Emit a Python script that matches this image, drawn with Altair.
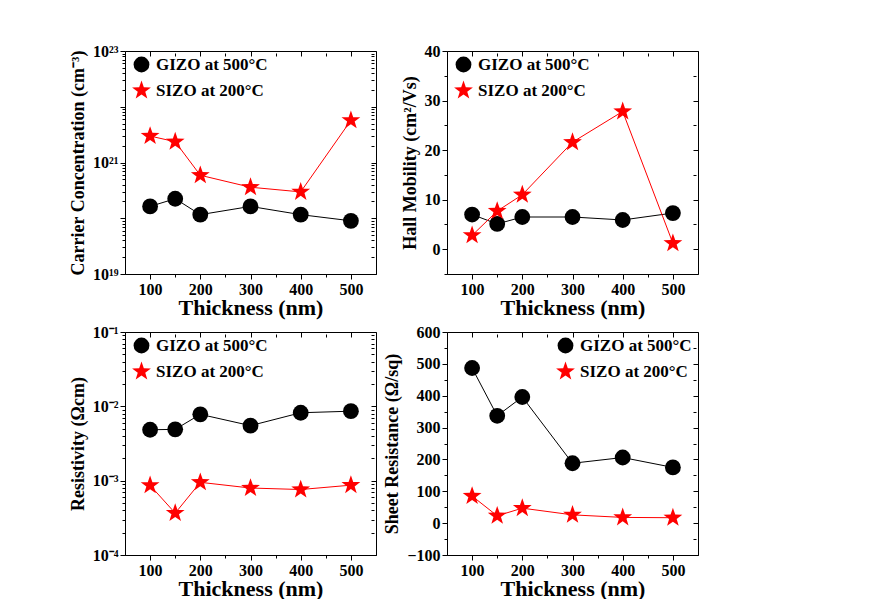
import altair as alt
import pandas as pd

thickness = [100, 150, 200, 300, 400, 500]
series = ["GIZO at 500°C", "SIZO at 200°C"]
colors = ["black", "#ff0000"]

carrier_gizo = [1.63e20, 2.24e20, 1.16e20, 1.63e20, 1.16e20, 9.0e19]
carrier_sizo = [2.98e21, 2.36e21, 5.9e20, 3.6e20, 2.97e20, 5.7e21]
mobility_gizo = [7.0, 5.1, 6.5, 6.5, 5.9, 7.3]
mobility_sizo = [2.8, 7.7, 11.0, 21.6, 27.8, 1.2]
resist_gizo = [4.84e-3, 4.9e-3, 7.8e-3, 5.5e-3, 8.2e-3, 8.6e-3]
resist_sizo = [8.65e-4, 3.66e-4, 9.5e-4, 7.96e-4, 7.6e-4, 8.7e-4]
sheet_gizo = [487, 337, 396, 188, 206, 175]
sheet_sizo = [85, 23, 47, 26, 18, 17]

x_ticks = [100, 150, 200, 250, 300, 350, 400, 450, 500]
STAR = ("M0,-1.25L0.294,-0.405L1.189,-0.386L0.475,0.155L0.735,1.011L0,0.5"
        "L-0.735,1.011L-0.475,0.155L-1.189,-0.386L-0.294,-0.405Z")
FONT = "Liberation Serif"


def make_df(g, s):
    rows = []
    for name, vals in zip(series, [g, s]):
        for t, v in zip(thickness, vals):
            rows.append({"Thickness": t, "value": v, "series": name})
    return pd.DataFrame(rows)


def log_ticks(lo, hi):
    out = []
    for e in range(lo, hi):
        for m in range(1, 10):
            out.append(float(f"{m}e{e}"))
    out.append(float(f"1e{hi}"))
    return out


LOG_TEST = "abs(log(datum.value)/LN10 - round(log(datum.value)/LN10)) < 1e-6"


def panel(df, yscale, yvalues, ylabel_expr, ymajor_test, ytitle, legend):
    xscale = alt.Scale(domain=[50, 550], nice=False, zero=False)
    xsize = {"condition": {"test": "datum.value % 100 === 0", "value": 5}, "value": 3}
    ysize = {"condition": {"test": ymajor_test, "value": 5}, "value": 3}
    x_main = alt.X("Thickness:Q", scale=xscale,
                   axis=alt.Axis(values=x_ticks, title="Thickness (nm)",
                                 labelExpr="datum.value % 100 === 0 ? datum.label : ''",
                                 tickSize=xsize, grid=False, labelFlush=False,
                                 labelOverlap=False))
    y_main = alt.Y("value:Q", scale=yscale,
                   axis=alt.Axis(values=yvalues, title=ytitle, labelExpr=ylabel_expr,
                                 tickSize=ysize, grid=False, labelOverlap=False,
                                 labelFlush=False))
    x_top = alt.X("Thickness:Q", scale=xscale,
                  axis=alt.Axis(orient="top", values=x_ticks, labels=False, title=None,
                                tickSize=xsize, offset=-5, domain=False, grid=False))
    y_right = alt.Y("value:Q", scale=yscale,
                    axis=alt.Axis(orient="right", values=yvalues, labels=False, title=None,
                                  tickSize=ysize, offset=-5, domain=False, grid=False))
    cscale = alt.Scale(domain=series, range=colors)
    sscale = alt.Scale(domain=series, range=["circle", STAR])
    base = alt.Chart(df)
    lines = [
        base.transform_filter(alt.datum.series == name).mark_line(
            strokeWidth=1, color=col).encode(
            x=alt.X("Thickness:Q", scale=xscale, axis=None),
            y=alt.Y("value:Q", scale=yscale, axis=None),
        )
        for name, col in zip(series, colors)
    ]
    pts = base.mark_point(filled=True, size=250, opacity=1).encode(
        x=x_main, y=y_main,
        color=alt.Color("series:N", scale=cscale, legend=legend),
        shape=alt.Shape("series:N", scale=sscale, legend=legend),
    )
    mirror = base.mark_point(opacity=0).encode(x=x_top, y=y_right)
    return alt.layer(*lines, pts, mirror).resolve_axis(x="independent", y="independent").properties(
        width=251, height=223)


p1 = panel(make_df(carrier_gizo, carrier_sizo),
           alt.Scale(type="log", domain=[1e19, 1e23], nice=False),
           log_ticks(19, 23),
           "datum.value == 1e19 ? '10¹⁹' : datum.value == 1e21 ? '10²¹' : datum.value == 1e23 ? '10²³' : ''",
           LOG_TEST, "Carrier Concentration (cm⁻³)",
           alt.Legend(title=None, orient="none", legendX=8, legendY=5))
p2 = panel(make_df(mobility_gizo, mobility_sizo),
           alt.Scale(domain=[-5, 40], nice=False, zero=False),
           [-5, 0, 5, 10, 15, 20, 25, 30, 35, 40],
           "datum.value % 10 === 0 ? datum.label : ''",
           "datum.value % 10 === 0", "Hall Mobility (cm²/Vs)",
           alt.Legend(title=None, orient="none", legendX=8, legendY=5))
p3 = panel(make_df(resist_gizo, resist_sizo),
           alt.Scale(type="log", domain=[1e-4, 1e-1], nice=False),
           log_ticks(-4, -1),
           "datum.value == 0.1 ? '10⁻¹' : datum.value == 0.01 ? '10⁻²' : datum.value == 0.001 ? '10⁻³' : datum.value == 0.0001 ? '10⁻⁴' : ''",
           LOG_TEST, "Resistivity (Ωcm)",
           alt.Legend(title=None, orient="none", legendX=8, legendY=5))
p4 = panel(make_df(sheet_gizo, sheet_sizo),
           alt.Scale(domain=[-100, 600], nice=False, zero=False),
           list(range(-100, 601, 50)),
           "datum.value % 100 === 0 ? datum.label : ''",
           "datum.value % 100 === 0", "Sheet Resistance (Ω/sq)",
           alt.Legend(title=None, orient="none", legendX=110, legendY=5))

chart = alt.concat(p1, p2, p3, p4, columns=2, spacing={"row": 4, "column": 6}).resolve_scale(
    x="independent", y="independent", color="independent", shape="independent"
).resolve_legend(color="independent", shape="independent").properties(
    padding={"left": 60, "top": 34, "right": 0, "bottom": 0}
).configure_view(
    stroke="black", strokeWidth=1
).configure_axis(
    labelFont=FONT, labelFontWeight="bold", labelFontSize=16, labelColor="black",
    titleFont=FONT, titleFontWeight="bold", titleColor="black",
    domainColor="black", tickColor="black", labelPadding=2,
).configure_axisX(
    titleFontSize=22, titlePadding=0
).configure_axisY(
    titleFontSize=18, titlePadding=5
).configure_legend(
    labelFont=FONT, labelFontWeight="bold", labelFontSize=17, labelColor="black",
    symbolSize=250, rowPadding=7, labelOffset=6, padding=0, symbolStrokeWidth=0,
)

chart.save("out.html", embed_options={"renderer": "svg", "actions": False})
